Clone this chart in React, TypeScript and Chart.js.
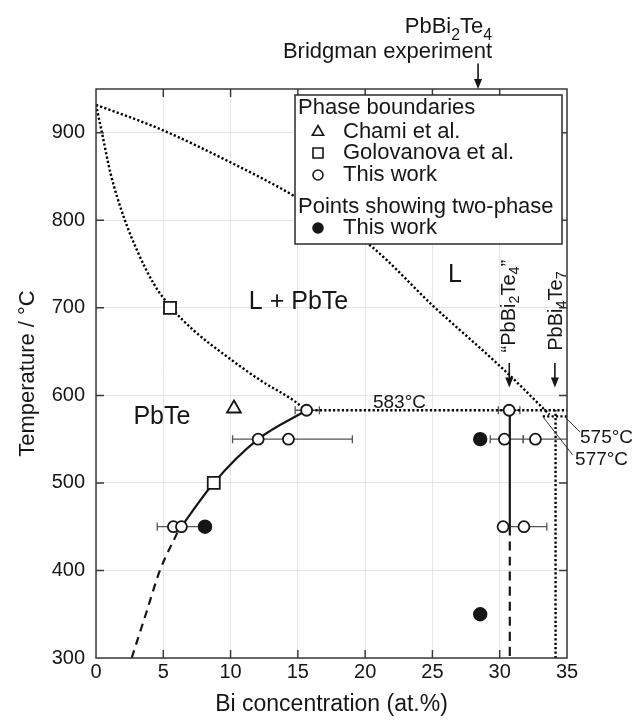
import React, { useEffect, useRef } from 'react';
import { Chart, registerables } from 'chart.js';

Chart.register(...registerables);

const FONT = '"Liberation Sans", Arial, Helvetica, sans-serif';
const INK = '#161616';

// ---- axes ----
const X_MIN = 0;
const X_MAX = 35;
const Y_MIN = 300;
const Y_MAX = 950;
const X_TICKS = [0, 5, 10, 15, 20, 25, 30, 35];
const Y_TICKS = [300, 400, 500, 600, 700, 800, 900];

// ---- phase boundary curves ----
const liquidusUpperX = [0, 4.8, 9.76, 14.7, 20.4, 25, 30.4, 33.7];
const liquidusUpperY = [932, 904, 868, 828, 771, 703, 628, 578];
const liquidusPbTeX = [0, 0.47, 1.09, 2.08, 3.07, 4.31, 5.55, 7.28, 9.76, 12.24, 14.7, 15.6];
const liquidusPbTeY = [932, 898, 853, 803, 765, 727, 701, 674, 644, 617, 594, 583];
const solidusX = [6.1, 8.75, 12.05, 15.65];
const solidusY = [445, 500, 550, 583];
const solidusExtX = [2.65, 3.7, 4.75, 6.1];
const solidusExtY = [300, 350, 400, 445];
const line583X = [15.65, 35];
const line583Y = [583, 583];
const line577X = [33.2, 35];
const line577Y = [576, 576];
const pbBi2Te4SolidX = [30.75, 30.75];
const pbBi2Te4SolidY = [583, 450];
const pbBi2Te4DashX = [30.75, 30.75];
const pbBi2Te4DashY = [450, 300];
const pbBi4Te7X = [34.15, 34.15];
const pbBi4Te7Y = [300, 583];

// ---- measured points ----
const chamiX = [10.25];
const chamiY = [585];
const golovanovaX = [5.5, 8.75];
const golovanovaY = [700, 500];
const thisWorkX = [15.65, 12.05, 14.3, 5.75, 6.35, 30.7, 30.35, 32.65, 30.25, 31.8];
const thisWorkY = [583, 550, 550, 450, 450, 583, 550, 550, 450, 450];
const twoPhaseX = [8.1, 28.55, 28.55];
const twoPhaseY = [450, 550, 350];

// ---- horizontal error bars ----
const errY = [583, 550, 450, 583, 550, 550, 450];
const errLow = [14.8, 10.15, 4.55, 29.9, 29.3, 31.75, 30.1];
const errHigh = [16.6, 19.05, 7.7, 31.5, 31.75, 35.5, 33.5];

// ---- text labels ----
const regionLabels = ['L + PbTe', 'L', 'PbTe'];
const regionLabelX = [15.05, 26.68, 4.9];
const regionLabelY = [706, 737, 575];
const tempLabels = ['583°C', '575°C', '577°C'];
const tempLabelX = [22.55, 35.97, 35.6];
const tempLabelY = [591, 552, 526];
const tempLabelAlign = ['center', 'left', 'left'];
// leader lines for 575 / 577
const leaderX1 = [34.85, 33.24];
const leaderY1 = [575.5, 575];
const leaderX2 = [35.97, 35.42];
const leaderY2 = [558, 532];
// arrows
const arrowX = [28.39, 30.71, 34.1];
const arrowFrom = [979, 637, 637];
const arrowTo = [950, 609, 609];

type Part = { t: string; sub?: boolean };
const PBBI2TE4: Part[] = [{ t: 'PbBi' }, { t: '2', sub: true }, { t: 'Te' }, { t: '4', sub: true }];
const PBBI2TE4_Q: Part[] = [{ t: '\u201CPbBi' }, { t: '2', sub: true }, { t: 'Te' }, { t: '4', sub: true }, { t: '\u201D' }];
const PBBI4TE7: Part[] = [{ t: 'PbBi' }, { t: '4', sub: true }, { t: 'Te' }, { t: '7', sub: true }];

const zip = (xs: number[], ys: number[]) => xs.map((x, i) => ({ x, y: ys[i] }));

function richText(
  ctx: CanvasRenderingContext2D,
  parts: Part[],
  x: number,
  y: number,
  size: number,
  align: 'left' | 'right' | 'center',
  rot = 0,
  baseline: CanvasTextBaseline = 'alphabetic'
) {
  ctx.save();
  ctx.translate(x, y);
  ctx.rotate(rot);
  ctx.textBaseline = baseline;
  ctx.textAlign = 'left';
  const widths = parts.map((p) => {
    ctx.font = `${p.sub ? size * 0.72 : size}px ${FONT}`;
    return ctx.measureText(p.t).width;
  });
  const total = widths.reduce((a, b) => a + b, 0);
  let cx = align === 'right' ? -total : align === 'center' ? -total / 2 : 0;
  parts.forEach((p, i) => {
    ctx.font = `${p.sub ? size * 0.72 : size}px ${FONT}`;
    ctx.fillText(p.t, cx, p.sub ? size * 0.3 : 0);
    cx += widths[i];
  });
  ctx.restore();
}

function drawMarker(ctx: CanvasRenderingContext2D, kind: string, x: number, y: number, r: number) {
  ctx.beginPath();
  if (kind === 'triangle') {
    ctx.moveTo(x, y - r);
    ctx.lineTo(x + r * 0.866, y + r * 0.5);
    ctx.lineTo(x - r * 0.866, y + r * 0.5);
    ctx.closePath();
  } else if (kind === 'rect') {
    ctx.rect(x - r, y - r, 2 * r, 2 * r);
  } else {
    ctx.arc(x, y, r, 0, Math.PI * 2);
  }
  if (kind === 'filled') {
    ctx.fillStyle = INK;
    ctx.fill();
  } else {
    ctx.fillStyle = '#fff';
    ctx.fill();
    ctx.lineWidth = 1.6;
    ctx.strokeStyle = INK;
    ctx.stroke();
  }
}

const errorBarPlugin = {
  id: 'errorBars',
  beforeDatasetsDraw(chart: any) {
    const { ctx, chartArea: a, scales } = chart;
    ctx.save();
    ctx.beginPath();
    ctx.rect(a.left, a.top, a.right - a.left, a.bottom - a.top);
    ctx.clip();
    ctx.strokeStyle = '#555';
    ctx.lineWidth = 1.3;
    errY.forEach((yv, i) => {
      const y = scales.y.getPixelForValue(yv);
      const x1 = scales.x.getPixelForValue(errLow[i]);
      const x2 = scales.x.getPixelForValue(errHigh[i]);
      ctx.beginPath();
      ctx.moveTo(x1, y);
      ctx.lineTo(x2, y);
      ctx.moveTo(x1, y - 4);
      ctx.lineTo(x1, y + 4);
      ctx.moveTo(x2, y - 4);
      ctx.lineTo(x2, y + 4);
      ctx.stroke();
    });
    ctx.restore();
  },
};

const decorPlugin = {
  id: 'decor',
  afterDatasetsDraw(chart: any) {
    const { ctx, chartArea: a, scales } = chart;
    const sx = (v: number) => scales.x.getPixelForValue(v);
    const sy = (v: number) => scales.y.getPixelForValue(v);
    ctx.save();
    ctx.fillStyle = INK;
    ctx.strokeStyle = INK;

    // frame + inward ticks
    ctx.lineWidth = 1.5;
    ctx.strokeStyle = '#3a3a3a';
    ctx.strokeRect(a.left, a.top, a.right - a.left, a.bottom - a.top);
    ctx.beginPath();
    X_TICKS.forEach((t) => {
      if (t === X_MIN || t === X_MAX) return;
      const x = sx(t);
      ctx.moveTo(x, a.bottom);
      ctx.lineTo(x, a.bottom - 8);
      ctx.moveTo(x, a.top);
      ctx.lineTo(x, a.top + 8);
    });
    Y_TICKS.forEach((t) => {
      if (t === Y_MIN) return;
      const y = sy(t);
      ctx.moveTo(a.left, y);
      ctx.lineTo(a.left + 8, y);
      ctx.moveTo(a.right, y);
      ctx.lineTo(a.right - 8, y);
    });
    ctx.stroke();

    // region labels
    ctx.fillStyle = INK;
    ctx.textBaseline = 'middle';
    ctx.textAlign = 'center';
    ctx.font = `25px ${FONT}`;
    regionLabels.forEach((s, i) => ctx.fillText(s, sx(regionLabelX[i]), sy(regionLabelY[i])));

    // temperature labels
    ctx.font = `19px ${FONT}`;
    tempLabels.forEach((s, i) => {
      ctx.textAlign = tempLabelAlign[i] as CanvasTextAlign;
      ctx.fillText(s, sx(tempLabelX[i]), sy(tempLabelY[i]));
    });

    // leader lines
    ctx.lineWidth = 1;
    ctx.strokeStyle = '#333';
    ctx.beginPath();
    leaderX1.forEach((x1, i) => {
      ctx.moveTo(sx(x1), sy(leaderY1[i]));
      ctx.lineTo(sx(leaderX2[i]), sy(leaderY2[i]));
    });
    ctx.stroke();

    // arrows
    ctx.strokeStyle = INK;
    ctx.fillStyle = INK;
    ctx.lineWidth = 1.6;
    arrowX.forEach((xv, i) => {
      const x = sx(xv);
      const y1 = sy(arrowFrom[i]);
      const y2 = sy(arrowTo[i]);
      ctx.beginPath();
      ctx.moveTo(x, y1);
      ctx.lineTo(x, y2 - 8);
      ctx.stroke();
      ctx.beginPath();
      ctx.moveTo(x, y2);
      ctx.lineTo(x - 4, y2 - 10);
      ctx.lineTo(x + 4, y2 - 10);
      ctx.closePath();
      ctx.fill();
    });

    // top annotation
    ctx.fillStyle = INK;
    richText(ctx, PBBI2TE4, sx(29.43), sy(1014), 22, 'right');
    richText(ctx, [{ t: 'Bridgman experiment' }], sx(29.43), sy(985.5), 22, 'right');

    // rotated compound labels
    richText(ctx, PBBI2TE4_Q, sx(30.7), sy(649), 20, 'left', -Math.PI / 2, 'middle');
    richText(ctx, PBBI4TE7, sx(34.2), sy(651), 20, 'left', -Math.PI / 2, 'middle');

    // legend box
    const bx = a.left + 199;
    const by = a.top + 6;
    const bw = 267;
    const bh = 149;
    ctx.fillStyle = '#fff';
    ctx.fillRect(bx, by, bw, bh);
    ctx.lineWidth = 1.5;
    ctx.strokeStyle = '#2a2a2a';
    ctx.strokeRect(bx, by, bw, bh);
    ctx.font = `22px ${FONT}`;
    ctx.textAlign = 'left';
    ctx.textBaseline = 'middle';
    const rows = [
      { title: 'Phase boundaries', dy: 13 },
      { marker: 'triangle', r: 6.5, text: 'Chami et al.', dy: 37 },
      { marker: 'rect', r: 5, text: 'Golovanova et al.', dy: 58 },
      { marker: 'circle', r: 5, text: 'This work', dy: 80 },
      { title: 'Points showing two-phase', dy: 112 },
      { marker: 'filled', r: 5.8, text: 'This work', dy: 133 },
    ];
    rows.forEach((row: any) => {
      const y = by + row.dy;
      if (row.title) {
        ctx.fillStyle = INK;
        ctx.fillText(row.title, bx + 3, y);
      } else {
        drawMarker(ctx, row.marker, bx + 23, y, row.r);
        ctx.fillStyle = INK;
        ctx.fillText(row.text, bx + 48, y);
      }
    });
    ctx.restore();
  },
};

export default function App() {
  const ref = useRef<HTMLCanvasElement | null>(null);

  useEffect(() => {
    document.body.style.margin = '0';
    const canvas = ref.current;
    if (!canvas) return;

    const dotted = (xs: number[], ys: number[]) => ({
      data: zip(xs, ys),
      showLine: true,
      pointRadius: 0,
      borderColor: '#000',
      borderWidth: 2.4,
      borderDash: [2.2, 2.2],
      cubicInterpolationMode: 'monotone',
      order: 3,
    });
    const solid = (xs: number[], ys: number[], dash: number[] = []) => ({
      data: zip(xs, ys),
      showLine: true,
      pointRadius: 0,
      borderColor: INK,
      borderWidth: 2.2,
      borderDash: dash,
      cubicInterpolationMode: 'monotone',
      order: 2,
    });
    const pts = (xs: number[], ys: number[], style: string, r: number, fill: string) => ({
      data: zip(xs, ys),
      showLine: false,
      pointStyle: style,
      pointRadius: r,
      pointHoverRadius: r,
      backgroundColor: fill,
      borderColor: INK,
      borderWidth: 1.8,
      order: 0,
    });

    const chart = new Chart(canvas, {
      type: 'scatter',
      data: {
        datasets: [
          pts(chamiX, chamiY, 'triangle', 8, '#fff'),
          pts(golovanovaX, golovanovaY, 'rect', 8.5, '#fff'),
          pts(thisWorkX, thisWorkY, 'circle', 5.5, '#fff'),
          pts(twoPhaseX, twoPhaseY, 'circle', 6.3, INK),
          dotted(liquidusUpperX, liquidusUpperY),
          dotted(liquidusPbTeX, liquidusPbTeY),
          dotted(line583X, line583Y),
          dotted(line577X, line577Y),
          dotted(pbBi4Te7X, pbBi4Te7Y),
          solid(solidusX, solidusY),
          solid(solidusExtX, solidusExtY, [8, 6]),
          solid(pbBi2Te4SolidX, pbBi2Te4SolidY),
          solid(pbBi2Te4DashX, pbBi2Te4DashY, [9, 6]),
        ] as any,
      },
      options: {
        animation: false,
        responsive: false,
        events: [],
        layout: { padding: { top: 89, right: 69, left: 0, bottom: 0 } },
        plugins: { legend: { display: false }, tooltip: { enabled: false } },
        scales: {
          x: {
            type: 'linear',
            min: X_MIN,
            max: X_MAX,
            afterBuildTicks: (s: any) => {
              s.ticks = X_TICKS.map((v) => ({ value: v }));
            },
            afterFit: (s: any) => {
              s.height = 65;
            },
            ticks: { color: INK, font: { family: FONT, size: 20 }, padding: 2, maxRotation: 0 },
            grid: { color: '#e3e3f3', lineWidth: 1, drawTicks: false },
            border: { display: false },
            title: {
              display: true,
              text: 'Bi concentration (at.%)',
              color: INK,
              font: { family: FONT, size: 23 },
              padding: { top: 0, bottom: 5 },
            },
          },
          y: {
            type: 'linear',
            min: Y_MIN,
            max: Y_MAX,
            afterBuildTicks: (s: any) => {
              s.ticks = Y_TICKS.map((v) => ({ value: v }));
            },
            afterFit: (s: any) => {
              s.width = 96;
            },
            ticks: { color: INK, font: { family: FONT, size: 20 }, padding: 11 },
            grid: { color: '#e3e3f3', lineWidth: 1, drawTicks: false },
            border: { display: false },
            title: {
              display: true,
              text: 'Temperature / °C',
              color: INK,
              font: { family: FONT, size: 22 },
              padding: { top: 15, bottom: 0 },
            },
          },
        },
      } as any,
      plugins: [errorBarPlugin, decorPlugin],
    });

    return () => chart.destroy();
  }, []);

  return (
    <div style={{ width: 636, height: 723, background: '#fff' }}>
      <canvas ref={ref} width={636} height={723} style={{ display: 'block', width: 636, height: 723 }} />
    </div>
  );
}
